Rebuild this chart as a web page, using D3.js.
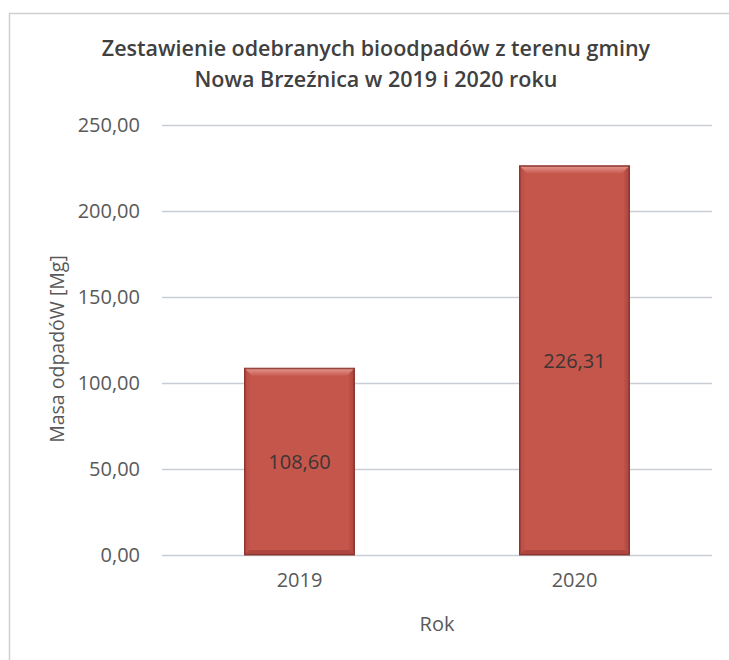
<!DOCTYPE html>
<html>
<head>
<meta charset="utf-8">
<script src="https://cdn.jsdelivr.net/npm/d3@7"></script>
<style>
  html, body { margin: 0; padding: 0; background: #ffffff; }
  svg { display: block; }
  text { font-family: "Open Sans", "Noto Sans", sans-serif; }
</style>
</head>
<body>
<svg id="chart" width="729" height="660"></svg>
<script>
const titleLines = ["Zestawienie odebranych bioodpadów z terenu gminy", "Nowa Brzeźnica w 2019 i 2020 roku"];
const years = ["2019", "2020"];
const masses = [108.60, 226.31];
const yTicks = [0, 50, 100, 150, 200, 250];
const yAxisTitle = "Masa odpadóW [Mg]";
const xAxisTitle = "Rok";

const svg = d3.select("#chart");
const W = 729, H = 660;
const margin = { left: 162, right: 17, top: 125, bottom: 105 };
const plotW = W - margin.left - margin.right;
const plotH = H - margin.top - margin.bottom;

const fmt = v => d3.format(".2f")(v).replace(".", ",");

// chart border
svg.append("rect")
  .attr("x", 9.5).attr("y", 13.5)
  .attr("width", 760).attr("height", 700)
  .attr("fill", "#ffffff")
  .attr("stroke", "#cfd0d3").attr("stroke-width", 1.5);

const defs = svg.append("defs");
const gTop = defs.append("linearGradient").attr("id", "bevTop").attr("x1", 0).attr("y1", 0).attr("x2", 0).attr("y2", 1);
gTop.append("stop").attr("offset", "0%").attr("stop-color", "#e39a91");
gTop.append("stop").attr("offset", "100%").attr("stop-color", "#c8584d");
const gBody = defs.append("linearGradient").attr("id", "body").attr("x1", 0).attr("y1", 0).attr("x2", 1).attr("y2", 0);
gBody.append("stop").attr("offset", "0%").attr("stop-color", "#b84a42");
gBody.append("stop").attr("offset", "6%").attr("stop-color", "#c5564c");
gBody.append("stop").attr("offset", "94%").attr("stop-color", "#c5564c");
gBody.append("stop").attr("offset", "100%").attr("stop-color", "#a9433c");

const g = svg.append("g").attr("transform", `translate(${margin.left},${margin.top})`);

const y = d3.scaleLinear().domain([0, 250]).range([plotH, 0]);
const x = d3.scaleBand().domain(years).range([0, plotW]).paddingInner(0.6).paddingOuter(0.3);

// gridlines
g.append("g").selectAll("line").data(yTicks).join("line")
  .attr("x1", 0).attr("x2", plotW)
  .attr("y1", d => Math.round(y(d)) + 0.5).attr("y2", d => Math.round(y(d)) + 0.5)
  .attr("stroke", "#c9cdd6").attr("stroke-width", 1.5);

// y axis labels
const yAxis = d3.axisLeft(y).tickValues(yTicks).tickFormat(fmt).tickSize(0).tickPadding(22);
const ya = g.append("g").call(yAxis);
ya.select(".domain").remove();
ya.selectAll("text").attr("font-size", 20).attr("fill", "#595959")
  .attr("font-family", "Open Sans, sans-serif");

// x axis labels
const xAxis = d3.axisBottom(x).tickSize(0).tickPadding(18);
const xa = g.append("g").attr("transform", `translate(0,${plotH})`).call(xAxis);
xa.select(".domain").remove();
xa.selectAll("text").attr("font-size", 20).attr("fill", "#595959")
  .attr("font-family", "Open Sans, sans-serif");

// bars
const bars = g.append("g").selectAll("g").data(years.map((k, i) => ({ k, v: masses[i] }))).join("g");
bars.append("rect")
  .attr("x", d => x(d.k)).attr("y", d => y(d.v))
  .attr("width", x.bandwidth()).attr("height", d => plotH - y(d.v))
  .attr("fill", "url(#body)")
  .attr("stroke", "#8e3a34").attr("stroke-width", 1);
// top bevel
bars.append("path")
  .attr("d", d => {
    const x0 = x(d.k), x1 = x0 + x.bandwidth(), t = y(d.v), b = 8;
    return `M${x0},${t} L${x1},${t} L${x1 - b},${t + b} L${x0 + b},${t + b} Z`;
  })
  .attr("fill", "url(#bevTop)");
// bottom shade
bars.append("path")
  .attr("d", d => {
    const x0 = x(d.k), x1 = x0 + x.bandwidth(), bt = plotH, b = 5;
    return `M${x0},${bt} L${x1},${bt} L${x1 - b},${bt - b} L${x0 + b},${bt - b} Z`;
  })
  .attr("fill", "#ad463f");
bars.append("rect")
  .attr("x", d => x(d.k) + 0.5).attr("y", d => y(d.v) + 0.5)
  .attr("width", x.bandwidth() - 1).attr("height", d => plotH - y(d.v) - 1)
  .attr("fill", "none").attr("stroke", "#8a3731").attr("stroke-width", 1);

// data labels
bars.append("text")
  .attr("x", d => x(d.k) + x.bandwidth() / 2)
  .attr("y", d => (y(d.v) + plotH) / 2)
  .attr("text-anchor", "middle").attr("dominant-baseline", "central")
  .attr("font-size", 20).attr("fill", "#3d3533")
  .text(d => fmt(d.v));

// title
const title = svg.append("text").attr("text-anchor", "middle")
  .attr("font-size", 21.5).attr("font-weight", 600).attr("fill", "#404040");
title.selectAll("tspan").data(titleLines).join("tspan")
  .attr("x", 376).attr("y", (d, i) => 56 + i * 31)
  .text(d => d);

// y axis title
svg.append("text")
  .attr("transform", `translate(64,349) rotate(-90)`)
  .attr("text-anchor", "middle")
  .attr("font-size", 19.5).attr("fill", "#595959")
  .text(yAxisTitle);

// x axis title
svg.append("text")
  .attr("x", margin.left + plotW / 2).attr("y", 631)
  .attr("text-anchor", "middle")
  .attr("font-size", 20).attr("fill", "#595959")
  .text(xAxisTitle);
</script>
</body>
</html>
